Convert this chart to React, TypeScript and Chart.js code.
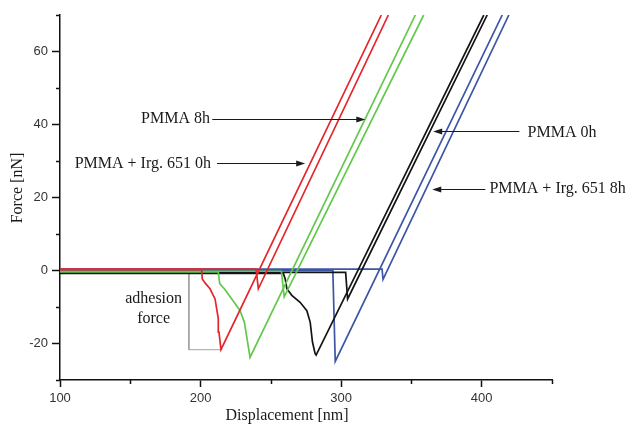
import React, { useEffect, useRef } from 'react';
import { Chart, registerables } from 'chart.js';

Chart.register(...registerables);

// ---- Data (Displacement [nm] vs Force [nN]) ----
// PMMA + Irg. 651 0h (red)
const redApproachX = [100, 239.5, 241.1, 333.6];
const redApproachY = [0.4, 0.4, -5.0, 70];
const redRetractX = [328.6, 214.5, 213.1, 212.6, 210.3, 206.7, 203.6, 201.2, 200.8, 100];
const redRetractY = [70, -21.7, -16.9, -13.2, -7.8, -5.0, -3.6, -2.3, 0.2, 0.2];

// PMMA 8h (green)
const greenApproachX = [100, 257.5, 259.5, 358.7];
const greenApproachY = [-0.2, -0.2, -7.2, 70];
const greenRetractX = [352.8, 235.2, 232.9, 231.2, 228.1, 222.2, 216.9, 213.6, 212.6, 100];
const greenRetractY = [70, -23.8, -18.3, -14.2, -11, -7.8, -5, -3.6, -0.4, -0.4];

// PMMA 0h (black)
const blackApproachX = [100, 303.2, 304.6, 403.9];
const blackApproachY = [-0.5, -0.5, -7.8, 70];
const blackRetractX = [401.5, 282.2, 281.5, 279.6, 278, 275.6, 270.8, 264.9, 261.4, 260.2, 258.9, 100];
const blackRetractY = [70, -23.2, -22.8, -19.6, -14.2, -11, -8.7, -6.8, -5, -2.3, -0.8, -0.8];

// PMMA + Irg. 651 8h (blue)
const blueApproachX = [100, 329.1, 329.8, 419.3];
const blueApproachY = [0.4, 0.4, -2.4, 70];
const blueRetractX = [414.6, 295.8, 294.1, 100];
const blueRetractY = [70, -24.9, 0, 0];

// adhesion force bracket
const bracketX = [191.7, 191.7, 214.5];
const bracketY = [0, -21.7, -21.7];

// ticks
const xMajorTicks = [100, 200, 300, 400];
const xMinorTicks = [150, 250, 350, 450];
const yMajorTicks = [-20, 0, 20, 40, 60];
const yMinorTicks = [-30, -10, 10, 30, 50, 70];

// annotations (data coordinates)
const labelTexts = ['PMMA 8h', 'PMMA + Irg. 651 0h', 'PMMA 0h', 'PMMA + Irg. 651 8h'];
const labelX = [206.7, 207.4, 432.6, 405.5];
const labelY = [41.6, 29.3, 37.6, 22.5];
const labelAlign = ['right', 'right', 'left', 'left'];
const arrowFromX = [208.3, 211.7, 426.8, 402.6];
const arrowToX = [317.2, 274.4, 365.5, 364.8];
const arrowY = [41.6, 29.45, 38.3, 22.3];

const adhesionLines = ['adhesion', 'force'];
const adhesionX = 166.6;
const adhesionY = [-7.8, -13.3];

const pts = (xs: number[], ys: number[]) => xs.map((v, i) => ({ x: v, y: ys[i] }));

const RED = '#e4262b';
const GREEN = '#62c84c';
const BLACK = '#141414';
const BLUE = '#3c55a5';

const mkDs = (label: string, xs: number[], ys: number[], color: string, w = 1.7) => ({
  label,
  data: pts(xs, ys),
  borderColor: color,
  backgroundColor: color,
  borderWidth: w,
  pointRadius: 0,
  tension: 0,
  fill: false,
});

const annotPlugin = {
  id: 'annot',
  afterDraw(chart: any) {
    const { ctx, chartArea } = chart;
    const xs = chart.scales.x;
    const ys = chart.scales.y;
    ctx.save();
    // minor ticks
    ctx.strokeStyle = '#111';
    ctx.lineWidth = 1.5;
    xMinorTicks.forEach((v) => {
      const px = Math.round(xs.getPixelForValue(v)) + 0.5;
      ctx.beginPath();
      ctx.moveTo(px, chartArea.bottom);
      ctx.lineTo(px, chartArea.bottom + 4);
      ctx.stroke();
    });
    yMinorTicks.forEach((v) => {
      const py = Math.round(ys.getPixelForValue(v)) + 0.5;
      ctx.beginPath();
      ctx.moveTo(chartArea.left, py);
      ctx.lineTo(chartArea.left - 4, py);
      ctx.stroke();
    });

    // labels
    ctx.fillStyle = '#1a1a1a';
    ctx.font = '16px "Liberation Serif", "Times New Roman", serif';
    ctx.textBaseline = 'middle';
    labelTexts.forEach((t, i) => {
      ctx.textAlign = labelAlign[i];
      ctx.fillText(t, xs.getPixelForValue(labelX[i]), ys.getPixelForValue(labelY[i]));
    });
    ctx.textAlign = 'center';
    adhesionLines.forEach((t, i) => {
      ctx.fillText(t, xs.getPixelForValue(adhesionX), ys.getPixelForValue(adhesionY[i]));
    });

    // arrows
    ctx.strokeStyle = '#1a1a1a';
    ctx.lineWidth = 1.2;
    arrowFromX.forEach((fx, i) => {
      const x1 = xs.getPixelForValue(fx);
      const x2 = xs.getPixelForValue(arrowToX[i]);
      const py = Math.round(ys.getPixelForValue(arrowY[i])) + 0.5;
      const dir = x2 > x1 ? 1 : -1;
      ctx.beginPath();
      ctx.moveTo(x1, py);
      ctx.lineTo(x2 - dir * 6, py);
      ctx.stroke();
      ctx.beginPath();
      ctx.moveTo(x2, py);
      ctx.lineTo(x2 - dir * 9, py - 3);
      ctx.lineTo(x2 - dir * 9, py + 3);
      ctx.closePath();
      ctx.fill();
    });

    // axis titles
    ctx.textAlign = 'center';
    ctx.fillText('Displacement [nm]', 287, 416);
    ctx.translate(18, 188);
    ctx.rotate(-Math.PI / 2);
    ctx.fillText('Force [nN]', 0, 0);
    ctx.restore();
  },
};

export default function App() {
  const ref = useRef<HTMLCanvasElement>(null);
  useEffect(() => {
    const canvas = ref.current;
    if (!canvas) return;
    const chart = new Chart(canvas, {
      type: 'line',
      data: {
        datasets: [
          mkDs('PMMA + Irg. 651 0h retract', redRetractX, redRetractY, RED),
          mkDs('PMMA + Irg. 651 0h approach', redApproachX, redApproachY, RED),
          mkDs('PMMA 8h retract', greenRetractX, greenRetractY, GREEN),
          mkDs('PMMA 8h approach', greenApproachX, greenApproachY, GREEN),
          mkDs('PMMA 0h retract', blackRetractX, blackRetractY, BLACK),
          mkDs('PMMA 0h approach', blackApproachX, blackApproachY, BLACK),
          mkDs('PMMA + Irg. 651 8h retract', blueRetractX, blueRetractY, BLUE),
          mkDs('PMMA + Irg. 651 8h approach', blueApproachX, blueApproachY, BLUE),
          mkDs('adhesion force', bracketX, bracketY, '#a0a0a0', 1),
        ] as any,
      },
      options: {
        responsive: false,
        animation: false,
        layout: { padding: { top: 15, right: 80, left: 0, bottom: 0 } },
        plugins: { legend: { display: false }, tooltip: { enabled: false } },
        scales: {
          x: {
            type: 'linear',
            min: 100,
            max: 450,
            afterBuildTicks: (s: any) => {
              s.ticks = xMajorTicks.map((v) => ({ value: v }));
            },
            afterFit: (s: any) => {
              s.height = 45;
            },
            grid: {
              drawOnChartArea: false,
              drawTicks: true,
              tickLength: 7,
              tickColor: '#111',
              tickWidth: 1.5,
            },
            border: { display: true, color: '#111', width: 1.5 },
            ticks: {
              color: '#333',
              padding: 4,
              maxRotation: 0,
              font: { family: '"Liberation Sans", Arial, sans-serif', size: 13 },
            },
          },
          y: {
            type: 'linear',
            min: -30,
            max: 70,
            afterBuildTicks: (s: any) => {
              s.ticks = yMajorTicks.map((v) => ({ value: v }));
            },
            afterFit: (s: any) => {
              s.width = 60;
            },
            grid: {
              drawOnChartArea: false,
              drawTicks: true,
              tickLength: 8,
              tickColor: '#111',
              tickWidth: 1.5,
            },
            border: { display: true, color: '#111', width: 1.5 },
            ticks: {
              color: '#333',
              padding: 4,
              font: { family: '"Liberation Sans", Arial, sans-serif', size: 13 },
            },
          },
        },
      },
      plugins: [annotPlugin],
    });
    return () => chart.destroy();
  }, []);
  return (
    <div style={{ position: 'fixed', left: 0, top: 0, width: 632, height: 425, background: '#fff' }}>
      <canvas ref={ref} width={632} height={425} style={{ display: 'block' }} />
    </div>
  );
}
